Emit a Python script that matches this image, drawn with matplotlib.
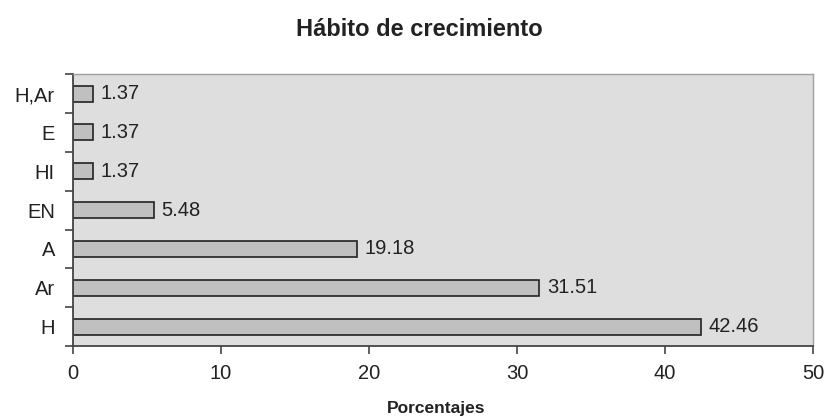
import numpy as np
import matplotlib.pyplot as plt
from matplotlib.ticker import FixedLocator

categorias = ['H', 'Ar', 'A', 'EN', 'HI', 'E', 'H,Ar']
porcentajes = [42.46, 31.51, 19.18, 5.48, 1.37, 1.37, 1.37]
xticks = [0, 10, 20, 30, 40, 50]

plt.rcParams['font.family'] = ['Liberation Sans', 'DejaVu Sans']

fig = plt.figure(figsize=(8.3, 4.19), dpi=100)
ax = fig.add_axes([0.088, 0.174, 0.8915, 0.649])
ax.set_facecolor('#dedede')

y = np.arange(len(categorias))
ax.barh(y, porcentajes, height=0.41, color='#c0c0c0', edgecolor='#222222', linewidth=1.2)
for yi, v in zip(y, porcentajes):
    ax.text(v + 0.5, yi, f'{v:.2f}', va='center', ha='left', fontsize=14.5, color='#222222')

ax.set_xlim(0, 50)
ax.set_ylim(-0.5, len(categorias) - 0.5)
ax.set_xticks(xticks)
ax.set_yticks(y)
ax.set_yticklabels(categorias)
ax.yaxis.set_minor_locator(FixedLocator(np.arange(-0.5, len(categorias), 1)))
ax.tick_params(axis='y', which='major', length=0, pad=13, labelsize=14.5, labelcolor='#222222')
ax.tick_params(axis='y', which='minor', length=6, width=1.2, color='#444444')
ax.tick_params(axis='x', which='major', length=6, width=1.2, color='#444444', pad=7,
               labelsize=14.5, labelcolor='#222222')

for s in ['left', 'bottom']:
    ax.spines[s].set_color('#444444')
    ax.spines[s].set_linewidth(1.3)
for s in ['top', 'right']:
    ax.spines[s].set_color('#a0a0a0')
    ax.spines[s].set_linewidth(1.0)

fig.text(0.525, 1 - 408 / 419, 'Porcentajes', fontsize=12.5, fontweight='bold',
         ha='center', va='center', color='#222222')
fig.text(0.505, 1 - 30 / 419, 'Hábito de crecimiento', fontsize=17, fontweight='bold',
         ha='center', va='center', color='#222222')

fig.savefig('out.png', dpi=100)
